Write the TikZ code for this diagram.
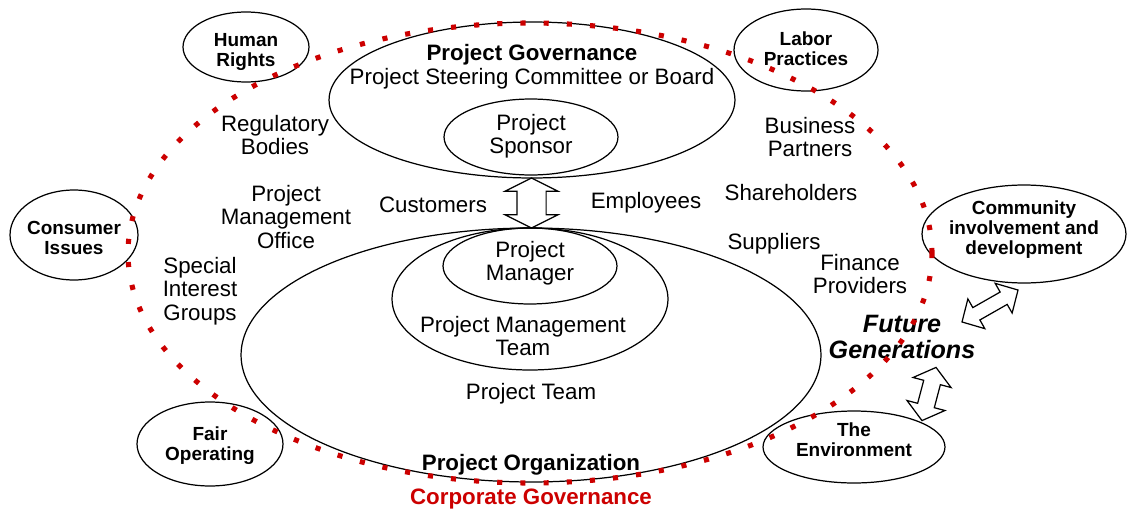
\documentclass[tikz,border=0pt]{standalone}
\usepackage{fontspec}
\setmainfont{Liberation Sans}
\usepackage{xcolor}
\usepackage{tikz}
\usetikzlibrary{calc,shapes.geometric,shapes.arrows}
\definecolor{ink}{HTML}{000000}
\definecolor{corp}{HTML}{CC0000}
\tikzset{
  ring/.style={draw=ink, ellipse, line width=0.7pt, inner sep=0pt, outer sep=0pt},
  txt/.style={text=ink, font=\fontsize{12.7}{13.3}\selectfont, align=center, inner sep=0pt},
  txtb/.style={txt, font=\fontsize{12.7}{13.3}\selectfont\bfseries},
  tag/.style={text=ink, font=\fontsize{10.8}{11.4}\selectfont\bfseries, align=center, inner sep=0pt},
  fut/.style={text=ink, font=\fontsize{14.3}{15.3}\selectfont\bfseries\itshape, align=center, inner sep=0pt},
  corpdots/.style={draw=corp, line width=2.9pt, dash pattern=on 2.9pt off 10.3pt},
  twoway/.style={draw=ink, double arrow, line width=0.7pt, inner xsep=0pt, double arrow head indent=0pt},
}

\begin{document}
\begin{tikzpicture}[x=0.02cm, y=-0.02cm]
  \useasboundingbox (0,0) rectangle (1128,510);
  % project side
  \node[ring, minimum width=8.12cm, minimum height=3.12cm] (gov) at (532,100) {};
  \node[ring, minimum width=3.48cm, minimum height=1.52cm] (spon) at (531,137) {};
  \node[ring, minimum width=11.6cm, minimum height=5.08cm] (org) at (531,355) {};
  \node[ring, minimum width=5.52cm, minimum height=2.84cm] (pmt) at (530,299) {};
  \node[ring, minimum width=3.48cm, minimum height=1.52cm] (pm) at (530,266) {};
  \node[twoway, inner ysep=0.28cm, minimum height=1.0cm, double arrow head extend=0.24cm,
        double arrow tip angle=127, rotate=90] (link) at ($(gov.south)!0.5!(org.north)$) {};

  \node[txtb] (govt) at (532,55) {Project Governance};
  \node[txt] (board) at (532,79) {Project Steering Committee or Board};
  \node[txt] (spont) at (531,136) {Project\\Sponsor};
  \node[txt] (pmtt) at (530,263) {Project\\Manager};
  \node[txt] (pmtm) at (523,336) {Project Management\\Team};
  \node[txt] (team) at (531,394) {Project Team};
  \node[txtb] (orgt) at (531,465) {Project Organization};

  % stakeholders
  \node[txt] (reg) at (275,135) {Regulatory\\Bodies};
  \node[txt] (pmo) at (286,217) {Project\\Management\\Office};
  \node[txt] (sig) at (200,291) {Special\\Interest\\Groups};
  \node[txt] (cust) at (433,205) {Customers};
  \node[txt] (emp) at (646,203) {Employees};
  \node[txt] (bp) at (810,137) {Business\\Partners};
  \node[txt] (sh) at (791,193) {Shareholders};
  \node[txt] (sup) at (774,244) {Suppliers};
  \node[txt] (fin) at (860,274) {Finance\\Providers};

  % core subjects
  \node[ring, minimum width=2.52cm, minimum height=1.40cm, label={[tag, yshift=-0.1cm]center:{Human\\Rights}}] (hr) at (246,47) {};
  \node[ring, minimum width=2.88cm, minimum height=1.64cm, label={[tag, yshift=0.02cm]center:{Labor\\Practices}}] (lab) at (806,50) {};
  \node[ring, minimum width=2.56cm, minimum height=1.80cm, label={[tag, yshift=-0.06cm]center:{Consumer\\Issues}}] (cons) at (74,235) {};
  \node[ring, minimum width=2.92cm, minimum height=1.68cm, label={[tag, yshift=-0.04cm]center:{Fair\\Operating}}] (fair) at (210,444) {};
  \node[ring, minimum width=3.64cm, minimum height=1.44cm, label={[tag, yshift=0.14cm]center:{The\\Environment}}] (env) at (854,447) {};
  \node[ring, minimum width=4.08cm, minimum height=1.96cm, label={[tag, yshift=0.08cm]center:{Community\\involvement and\\development}}] (comm) at (1024,234) {};

  \node[fut] (fg) at (902,337) {Future\\Generations};
  \node[twoway, inner ysep=0.13cm, minimum height=1.29cm, double arrow head extend=0.2cm,
        double arrow tip angle=92, rotate=29.7] (fgcom) at (990,306) {};
  \node[twoway, inner ysep=0.16cm, minimum height=1.10cm, double arrow head extend=0.22cm,
        double arrow tip angle=103, rotate=75.2] (fgenv) at (929,394) {};

  % corporate governance
  \draw[corpdots] (530,253) ellipse [x radius=402, y radius=230];
  \node[txtb, text=corp] (cg) at (531,499) {Corporate Governance};
\end{tikzpicture}
\end{document}
